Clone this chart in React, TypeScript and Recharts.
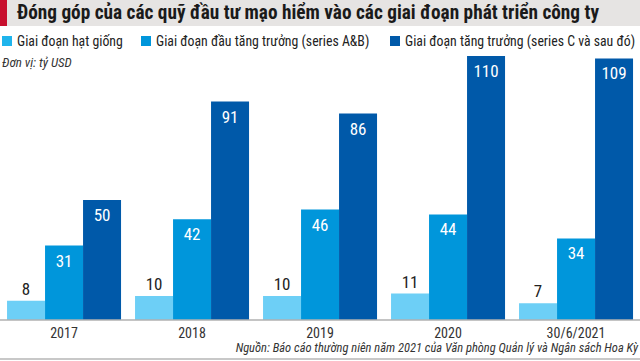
import { BarChart, Bar, XAxis, YAxis, LabelList } from "recharts";

const categories = ["2017", "2018", "2019", "2020", "30/6/2021"];
const seedValues = [8, 10, 10, 11, 7];
const earlyValues = [31, 42, 46, 44, 34];
const growthValues = [50, 91, 86, 110, 109];

const seriesNames = [
  "Giai đoạn hạt giống",
  "Giai đoạn đầu tăng trưởng (series A&B)",
  "Giai đoạn tăng trưởng (series C và sau đó)",
];

const COLORS = { seed: "#6dcff6", early: "#0096db", growth: "#0059a9" };
const LEGEND_COLORS = ["#1fb4ec", "#0096db", "#0059a9"];
const FONT = "'Roboto Condensed', Roboto, sans-serif";

const data = categories.map((c, i) => ({
  name: c,
  seed: seedValues[i],
  early: earlyValues[i],
  growth: growthValues[i],
}));

export default function App() {
  const legendX = [2, 141, 390];

  return (
    <div
      style={{
        position: "absolute",
        left: 0,
        top: 0,
        width: 640,
        height: 361,
        background: "#fff",
        overflow: "hidden",
        fontFamily: FONT,
      }}
    >
      {/* title band */}
      <div style={{ position: "absolute", left: 0, top: 0, width: 640, height: 26, background: "#e6e4e3" }} />
      <div style={{ position: "absolute", left: 0, top: 0, width: 7, height: 26, background: "#c8102e" }} />
      <div
        style={{
          position: "absolute",
          left: 17,
          top: 1,
          fontSize: 19.3,
          lineHeight: "24px",
          fontWeight: 700,
          color: "#1a1a1a",
          whiteSpace: "nowrap",
        }}
      >
        Đóng góp của các quỹ đầu tư mạo hiểm vào các giai đoạn phát triển công ty
      </div>

      {/* legend */}
      {seriesNames.map((s, i) => (
        <div key={s}>
          <div
            style={{
              position: "absolute",
              left: legendX[i],
              top: 36,
              width: 10,
              height: 10,
              background: LEGEND_COLORS[i],
            }}
          />
          <div
            style={{
              position: "absolute",
              left: legendX[i] + 15,
              top: 32,
              fontSize: 13.8,
              lineHeight: "18px",
              color: "#222",
              whiteSpace: "nowrap",
            }}
          >
            {s}
          </div>
        </div>
      ))}

      <div
        style={{
          position: "absolute",
          left: 2,
          top: 55,
          fontSize: 13,
          lineHeight: "16px",
          fontStyle: "italic",
          color: "#333",
        }}
      >
        Đơn vị: tỷ USD
      </div>

      <div style={{ position: "absolute", left: 0, top: 0 }}>
        <BarChart
          width={640}
          height={361}
          data={data}
          margin={{ top: 32, right: 0, bottom: 11, left: 0 }}
          barCategoryGap="5.5%"
          barGap={0}
        >
          <YAxis hide domain={[0, 120]} />
          <XAxis
            dataKey="name"
            height={30}
            axisLine={{ stroke: "#b0b0b0", strokeWidth: 1.5 }}
            tickLine={false}
            tick={{ fontSize: 14, fill: "#333", fontFamily: FONT }}
            tickMargin={2}
          />
          <Bar dataKey="seed" fill={COLORS.seed} isAnimationActive={false}>
            <LabelList dataKey="seed" position="top" offset={6} fill="#222" fontSize={17} fontFamily={FONT} />
          </Bar>
          <Bar dataKey="early" fill={COLORS.early} isAnimationActive={false}>
            <LabelList dataKey="early" position="insideTop" offset={9} fill="#fff" fontSize={17} fontFamily={FONT} />
          </Bar>
          <Bar dataKey="growth" fill={COLORS.growth} isAnimationActive={false}>
            <LabelList dataKey="growth" position="insideTop" offset={9} fill="#fff" fontSize={17} fontFamily={FONT} />
          </Bar>
        </BarChart>
      </div>

      <div
        style={{
          position: "absolute",
          right: 2,
          top: 341,
          fontSize: 12.5,
          lineHeight: "14px",
          fontStyle: "italic",
          color: "#333",
          whiteSpace: "nowrap",
        }}
      >
        Nguồn: Báo cáo thường niên năm 2021 của Văn phòng Quản lý và Ngân sách Hoa Kỳ
      </div>
      <div style={{ position: "absolute", left: 0, top: 358, width: 640, height: 1.5, background: "#c8c8c8" }} />
    </div>
  );
}
